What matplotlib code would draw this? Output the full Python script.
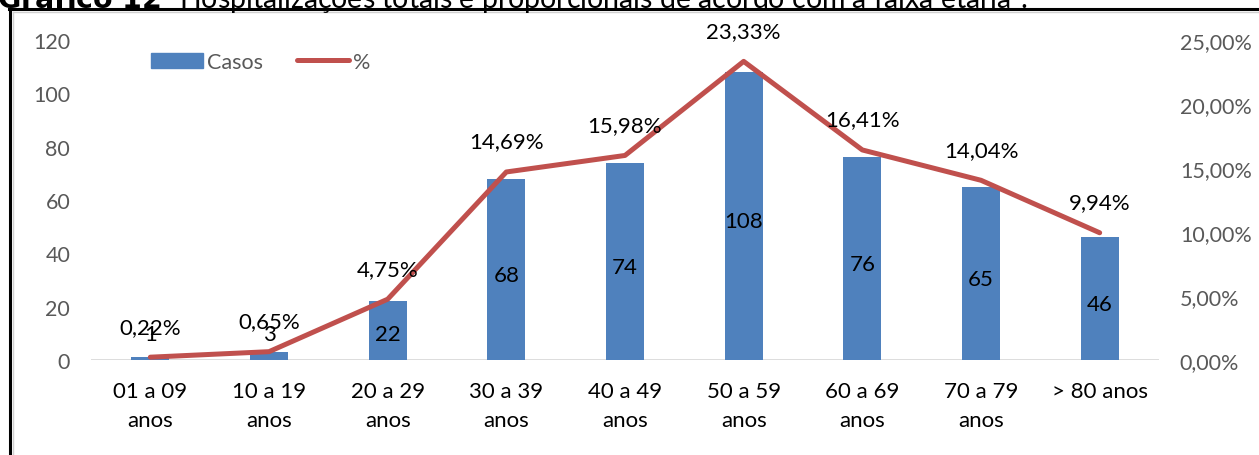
import matplotlib.pyplot as plt
from matplotlib.lines import Line2D
from matplotlib.patches import Patch
from matplotlib.ticker import FuncFormatter

# dados
faixas = ["01 a 09\nanos", "10 a 19\nanos", "20 a 29\nanos", "30 a 39\nanos", "40 a 49\nanos",
          "50 a 59\nanos", "60 a 69\nanos", "70 a 79\nanos", "> 80 anos"]
casos = [1, 3, 22, 68, 74, 108, 76, 65, 46]
percentual = [0.22, 0.65, 4.75, 14.69, 15.98, 23.33, 16.41, 14.04, 9.94]

AZUL = "#4F81BD"
VERMELHO = "#C0504D"
CINZA = "#595959"

plt.rcParams['font.family'] = ['Lato', 'DejaVu Sans']

fig = plt.figure(figsize=(12.59, 4.56), dpi=100)
ax = fig.add_axes([91 / 1259, 1 - 361 / 456, 1068 / 1259, 320 / 456])
ax2 = ax.twinx()

x = list(range(len(faixas)))
ax.bar(x, casos, width=0.32, color=AZUL, zorder=2)
ax.set_xlim(-0.5, len(faixas) - 0.5)
ax.set_ylim(0, 120)
ax.set_yticks(range(0, 121, 20))
ax.set_xticks(x)
ax.set_xticklabels(faixas, fontsize=16, color="black", linespacing=1.55)
ax.tick_params(axis="x", length=0, pad=15)
ax.tick_params(axis="y", length=0, pad=15, labelsize=15.5, labelcolor=CINZA)

pct_frac = [p / 100 for p in percentual]
ax2.plot(x, pct_frac, color=VERMELHO, lw=3.6, solid_capstyle="round", zorder=3)
ax2.set_ylim(0, 0.25)
ax2.set_yticks([0, 0.05, 0.10, 0.15, 0.20, 0.25])
ax2.yaxis.set_major_formatter(FuncFormatter(lambda v, p: f"{v * 100:.2f}%".replace(".", ",")))
ax2.tick_params(axis="y", length=0, pad=15, labelsize=15.5, labelcolor=CINZA)

for a in (ax, ax2):
    for s in a.spines.values():
        s.set_visible(False)
ax.axhline(0, color="#D9D9D9", lw=2, zorder=1)

# rótulos das barras
for xi, v in zip(x, casos):
    ax.text(xi, max(v / 2 - 2, 9.75), str(v), ha="center", va="center", fontsize=16, color="black", zorder=4)

# rótulos da linha
for xi, p in zip(x, pct_frac):
    ax2.annotate(f"{p * 100:.2f}%".replace(".", ","), (xi, p), xytext=(0, 22), textcoords="offset points",
                 ha="center", va="center", fontsize=16, color="black", zorder=5)

handles = [Patch(color=AZUL, label="Casos"), Line2D([0], [0], color=VERMELHO, lw=3.6, solid_capstyle="round", label="%")]
fig.legend(handles=handles, loc="center left", bbox_to_anchor=(136 / 1259, 1 - 63 / 456), ncol=2, frameon=False,
           fontsize=15.5, labelcolor=CINZA, handlelength=2.4, handletextpad=0.2, columnspacing=1.6,
           borderpad=0.2)

# título (cortado no topo)
fig.text(-0.002, 1 - 8 / 456, r"$\bf{Gráfico\ 12}$- Hospitalizações totais e proporcionais de acordo com a faixa etária¹.",
         fontsize=20.5, va="baseline", ha="left", color="black")

# moldura
fig.add_artist(Line2D([10 / 1259, 10 / 1259], [0, 1 - 10 / 456], color="black", lw=2.2, transform=fig.transFigure))
fig.add_artist(Line2D([9 / 1259, 1], [1 - 10 / 456, 1 - 10 / 456], color="black", lw=2.2, transform=fig.transFigure))
fig.add_artist(Line2D([13 / 1259, 13 / 1259], [0, 1 - 13 / 456], color="#D0D0D0", lw=1, transform=fig.transFigure))
fig.add_artist(Line2D([13 / 1259, 1], [1 - 13 / 456, 1 - 13 / 456], color="#D0D0D0", lw=1, transform=fig.transFigure))

fig.savefig("out.png", dpi=100)
